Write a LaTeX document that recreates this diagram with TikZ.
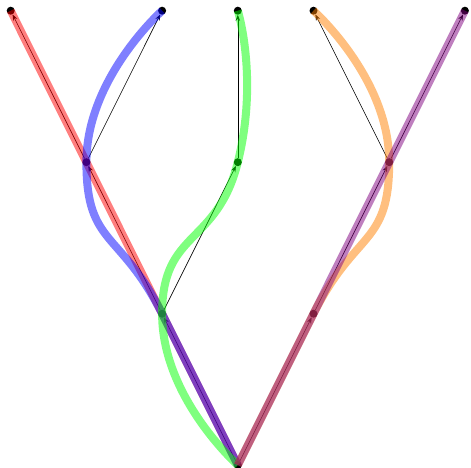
\documentclass[tikz,border=0pt]{standalone}
\usetikzlibrary{arrows.meta}
\begin{document}
\begin{tikzpicture}[x=1pt,y=1pt,
  dot/.style={circle,fill=black,inner sep=0pt,minimum size=8pt},
  edge/.style={line width=0.6pt,-{Stealth[length=6pt,width=4.5pt,inset=2pt]}},
  lineage/.style={line width=8pt,opacity=0.5,smooth,tension=1}]
\useasboundingbox (0,0) rectangle (471,468);
% nodes
\node[dot] (A) at (10.7,457.3) {};
\node[dot] (B) at (162.1,457.3) {};
\node[dot] (C) at (237.8,457.3) {};
\node[dot] (D) at (313.5,457.3) {};
\node[dot] (E) at (464.9,457.3) {};
\node[dot] (F) at (86.4,305.8) {};
\node[dot] (G) at (237.8,305.8) {};
\node[dot] (H) at (389.2,305.8) {};
\node[dot] (I) at (162.1,154.3) {};
\node[dot] (J) at (313.5,154.3) {};
\node[dot] (R) at (237.8,2.9) {};
% tree edges
\draw[edge] (R) -- (I);
\draw[edge] (R) -- (J);
\draw[edge] (I) -- (F);
\draw[edge] (I) -- (G);
\draw[edge] (F) -- (A);
\draw[edge] (F) -- (B);
\draw[edge] (G) -- (C);
\draw[edge] (J) -- (H);
\draw[edge] (H) -- (D);
\draw[edge] (H) -- (E);
% lineages
\draw[lineage,red] plot coordinates {(A.center) (F.center) (I.center) (R.center)};
\draw[lineage,blue] plot coordinates {(B.center) (F.center) (I.center) (R.center)};
\draw[lineage,green] plot coordinates {(C.center) (G.center) (I.center) (R.center)};
\draw[lineage,orange] plot coordinates {(D.center) (H.center) (J.center) (R.center)};
\draw[lineage,violet] plot coordinates {(E.center) (H.center) (J.center) (R.center)};
\end{tikzpicture}
\end{document}
